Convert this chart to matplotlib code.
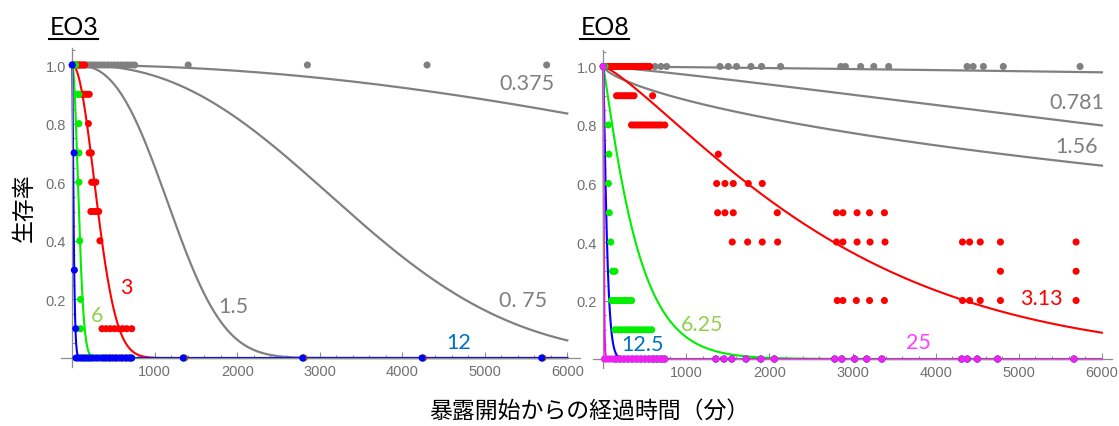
import numpy as np
import matplotlib
matplotlib.use("Agg")
import matplotlib.pyplot as plt
from matplotlib.lines import Line2D
from matplotlib.ticker import FixedLocator, MultipleLocator, FuncFormatter

W, H = 1119, 427

GRAY = "#808080"
RED = "#ff0000"
GREEN = "#00ee00"
BLUE = "#0000ff"
MAGENTA = "#ff00ff"

# ---------------- EO3 : fitted Weibull survival curves ----------------
eo3_labels = ["0.375", "0. 75", "1.5", "3", "6", "12"]
eo3_scale = [14100, 3900, 1370, 375, 97, 20]
eo3_shape = [2.0, 2.4, 2.7, 2.0, 1.9, 1.3]
eo3_line_colors = [GRAY, GRAY, GRAY, RED, GREEN, BLUE]
eo3_text_colors = ["#7f7f7f", "#7f7f7f", "#7f7f7f", "#ff0000", "#92d050", "#0070c0"]
eo3_label_t = [5512, 5464, 1948, 659, 296, 4681]
eo3_label_s = [0.940, 0.198, 0.177, 0.241, 0.148, 0.056]

# EO3 observed survival (rows of equal survival, times in minutes)
eo3_gray_levels = [1.0]
eo3_gray_times = [[0, 20, 45, 70, 100, 130, 160, 190, 220, 250, 285, 320, 355, 390,
                   430, 470, 510, 550, 590, 630, 670, 710, 755, 1405, 2850, 4300, 5750]]

eo3_red_levels = [1.0, 0.9, 0.8, 0.7, 0.6, 0.5, 0.4, 0.1, 0.0]
eo3_red_times = [[0, 30, 60, 90, 120, 150],
                 [115, 145, 175, 205],
                 [195],
                 [205, 230],
                 [235, 260, 285],
                 [225, 255, 285, 320],
                 [335],
                 [360, 410, 460, 510, 560, 610, 660, 720],
                 [390, 450, 520, 590, 650, 700, 1360, 2808, 4256, 5705]]

eo3_green_levels = [1.0, 0.9, 0.8, 0.7, 0.6, 0.4, 0.2, 0.1, 0.0]
eo3_green_times = [[0, 20, 40],
                   [65, 80],
                   [80],
                   [80],
                   [80],
                   [90],
                   [100],
                   [100],
                   [120, 160, 200, 250, 300, 360, 420, 480, 540, 600, 660, 720,
                    1350, 2798, 4246, 5695]]

eo3_blue_levels = [1.0, 0.7, 0.3, 0.1, 0.0]
eo3_blue_times = [[0],
                  [22],
                  [25],
                  [42],
                  [45, 70, 100, 130, 160, 190, 220, 250, 290, 330, 370, 410, 450, 490,
                   530, 570, 610, 650, 690, 720, 1345, 2793, 4241, 5690]]

# ---------------- EO8 : fitted Weibull survival curves ----------------
eo8_labels = ["", "0.781", "1.56", "3.13", "6.25", "12.5", "25"]
eo8_scale = [155000, 21930, 21950, 2970, 420, 48, 8]
eo8_shape = [1.2, 1.15, 0.68, 1.25, 1.1, 1.2, 1.2]
eo8_line_colors = [GRAY, GRAY, GRAY, RED, GREEN, BLUE, MAGENTA]
eo8_text_colors = ["#7f7f7f", "#7f7f7f", "#7f7f7f", "#ff0000", "#92d050", "#0070c0", "#ff40ff"]
eo8_label_t = [0, 5697, 5697, 5267, 1188, 472, 3787]
eo8_label_s = [0, 0.878, 0.729, 0.209, 0.120, 0.051, 0.058]

eo8_zero_times = [1355, 1453, 1547, 1718, 1897, 2059, 2785, 2871, 3025, 3170, 3353,
                  4313, 4380, 4500, 4746, 5664]

eo8_gray_levels = [1.0]
eo8_gray_times = [[0, 60, 120, 180, 240, 300, 360, 420, 480, 540, 622, 694, 762,
                   1404, 1504, 1604, 1777, 1905, 2134, 2858, 2913, 3097, 3255, 3434,
                   4378, 4450, 4574, 4813, 5737]]

eo8_red_levels = [1.0, 0.9, 0.8, 0.7, 0.6, 0.5, 0.4, 0.3, 0.2]
eo8_red_times = [[0, 30, 60, 90, 120, 150, 180, 210, 240, 270, 300, 330, 360, 390,
                  420, 450, 480, 510, 540, 560],
                 [160, 190, 220, 250, 280, 310, 340, 370, 594],
                 [340, 370, 400, 430, 460, 490, 520, 550, 580, 610, 640, 670, 700, 740],
                 [1384],
                 [1364, 1464, 1564, 1745, 1913],
                 [1376, 1464, 1564, 2094, 2806, 2883, 3054, 3204, 3383],
                 [1552, 1737, 1913, 2098, 2806, 2883, 3054, 3210, 3390,
                  4322, 4408, 4536, 4779, 5689],
                 [4779, 5689],
                 [2815, 2883, 3045, 3204, 3383, 4322, 4408, 4536, 4779, 5689]]

eo8_green_levels = [1.0, 0.8, 0.7, 0.6, 0.5, 0.4, 0.3, 0.2, 0.1, 0.0]
eo8_green_times = [[0, 20],
                   [60],
                   [68],
                   [62],
                   [72],
                   [90],
                   [112, 140],
                   [100, 130, 160, 190, 220, 250, 280, 310, 341],
                   [140, 180, 220, 260, 300, 340, 380, 420, 460, 500, 540, 582],
                   [600, 640, 680, 720] + eo8_zero_times]

eo8_blue_levels = [1.0, 0.0]
eo8_blue_times = [[0],
                  [150, 200, 250, 300, 350, 400, 450, 500, 550, 600, 650, 700, 740]
                  + eo8_zero_times]

eo8_magenta_levels = [1.0, 0.0]
eo8_magenta_times = [[0],
                     [15, 40, 70, 100, 130, 160, 190, 220, 260, 300, 340, 380, 420,
                      460, 500, 540, 580, 620, 660, 700, 740] + eo8_zero_times]

x_major = [1000, 2000, 3000, 4000, 5000, 6000]
y_major = [0.2, 0.4, 0.6, 0.8, 1.0]

# ---------------- figure ----------------
fig = plt.figure(figsize=(W / 100, H / 100), dpi=100)

ax1 = fig.add_axes([60.75 / W, 1 - 367.8 / H, 518.9 / W, 318.5 / H])
ax2 = fig.add_axes([593.3 / W, 1 - 368.8 / H, 518.6 / W, 318.0 / H])

t_grid = np.concatenate([np.linspace(0, 300, 3001), np.linspace(300, 6000, 2000)[1:]])


def weibull(t, lam, k):
    return np.exp(-(t / lam) ** k)


def style_axes(ax, xlim):
    ax.set_xlim(*xlim)
    ax.set_ylim(-0.03, 1.057)
    ax.patch.set_alpha(0)
    for side in ("top", "right"):
        ax.spines[side].set_visible(False)
    for side in ("left", "bottom"):
        ax.spines[side].set_position(("data", 0))
        ax.spines[side].set_color("#8c8c8c")
        ax.spines[side].set_linewidth(0.9)
    ax.xaxis.set_major_locator(FixedLocator(x_major))
    ax.xaxis.set_minor_locator(MultipleLocator(200))
    ax.yaxis.set_major_locator(FixedLocator(y_major))
    ax.yaxis.set_minor_locator(MultipleLocator(0.05))
    ax.xaxis.set_major_formatter(FuncFormatter(lambda v, p: f"{v:.0f}"))
    ax.yaxis.set_major_formatter(FuncFormatter(lambda v, p: f"{v:.1f}"))
    ax.tick_params(which="both", direction="in", color="#8c8c8c", width=0.8,
                   labelcolor="#707070", labelsize=10.5)
    ax.tick_params(which="major", length=4)
    ax.tick_params(which="minor", length=2.3)
    ax.tick_params(axis="x", pad=4.5)
    ax.tick_params(axis="y", pad=4.5)
    for lab in ax.get_xticklabels() + ax.get_yticklabels():
        lab.set_family("Liberation Sans")


def draw_points(ax, levels, rows, color):
    ts, ss = [], []
    for lev, row in zip(levels, rows):
        ts.extend(row)
        ss.extend([lev] * len(row))
    ax.scatter(ts, ss, s=26, color=color, edgecolors="none", zorder=3, clip_on=False)


# EO3 panel
style_axes(ax1, (-140, 6150))
for lam, k, c in zip(eo3_scale, eo3_shape, eo3_line_colors):
    ax1.plot(t_grid, weibull(t_grid, lam, k), color=c, lw=1.6 if c == GRAY else 1.5, zorder=2)
draw_points(ax1, eo3_gray_levels, eo3_gray_times, GRAY)
draw_points(ax1, eo3_red_levels, eo3_red_times, RED)
draw_points(ax1, eo3_green_levels, eo3_green_times, GREEN)
draw_points(ax1, eo3_blue_levels, eo3_blue_times, BLUE)
for lab, tx, sy, c in zip(eo3_labels, eo3_label_t, eo3_label_s, eo3_text_colors):
    ax1.text(tx, sy, lab, color=c, fontsize=15.5, family="Lato", ha="center", va="center")

# EO8 panel
style_axes(ax2, (-120, 6120))
for lam, k, c in zip(eo8_scale, eo8_shape, eo8_line_colors):
    ax2.plot(t_grid, weibull(t_grid, lam, k), color=c, lw=1.6 if c == GRAY else 1.5, zorder=2)
draw_points(ax2, eo8_gray_levels, eo8_gray_times, GRAY)
draw_points(ax2, eo8_red_levels, eo8_red_times, RED)
draw_points(ax2, eo8_green_levels, eo8_green_times, GREEN)
draw_points(ax2, eo8_blue_levels, eo8_blue_times, BLUE)
draw_points(ax2, eo8_magenta_levels, eo8_magenta_times, "#ee22ee")
for lab, tx, sy, c in zip(eo8_labels, eo8_label_t, eo8_label_s, eo8_text_colors):
    if lab:
        ax2.text(tx, sy, lab, color=c, fontsize=15.5, family="Lato", ha="center", va="center")

# panel titles with underline
titles = []
for name, xpx in (("EO3", 49.3), ("EO8", 580.3)):
    titles.append(fig.text(xpx / W, 1 - 35 / H, name, fontsize=18, family="Lato",
                           ha="left", va="baseline", color="black"))

# axis titles
fig.text(24 / W, 1 - 208 / H, "生存率", rotation=90, fontsize=16.5,
         family=["Noto Sans CJK JP", "DejaVu Sans"], ha="center", va="center")
fig.text(589 / W, 1 - 411 / H, "暴露開始からの経過時間（分）", fontsize=16.5,
         family=["Noto Sans CJK JP", "DejaVu Sans"], ha="center", va="center")

fig.canvas.draw()
renderer = fig.canvas.get_renderer()
for t in titles:
    bb = t.get_window_extent(renderer)
    y = (H - 40) / H
    fig.add_artist(Line2D([bb.x0 / W, bb.x1 / W], [y, y], transform=fig.transFigure,
                          color="black", lw=1.5))

fig.savefig("out.png", dpi=100)
